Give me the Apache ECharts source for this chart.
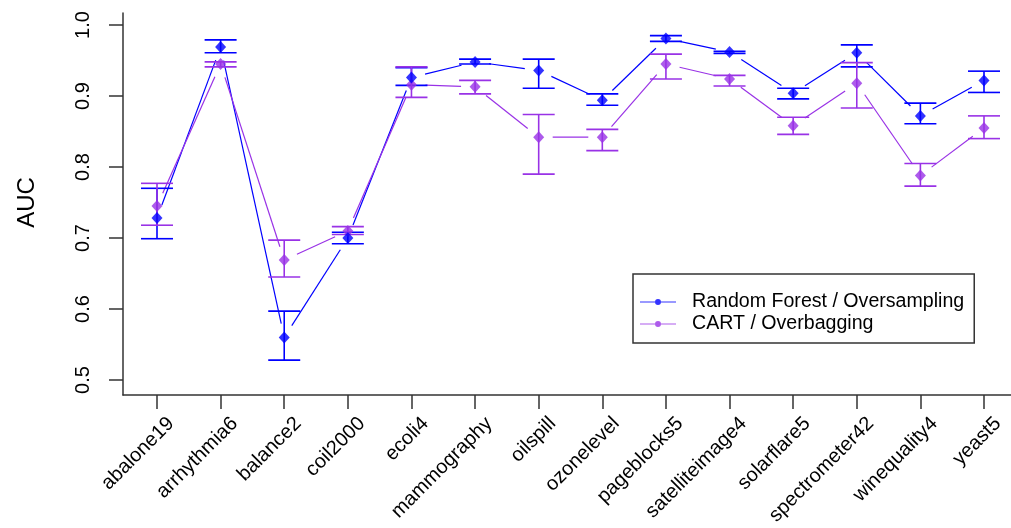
<!DOCTYPE html>
<html>
<head>
<meta charset="utf-8">
<script src="https://cdn.jsdelivr.net/npm/echarts@6/dist/echarts.min.js"></script>
<style>
html,body{margin:0;padding:0;background:#fff;}
#chart{width:1011px;height:528px;}
</style>
</head>
<body>
<div id="chart"></div>
<script>
const categories = ['abalone19','arrhythmia6','balance2','coil2000','ecoli4','mammography','oilspill','ozonelevel','pageblocks5','satelliteimage4','solarflare5','spectrometer42','winequality4','yeast5'];
const yTicks = [0.5, 0.6, 0.7, 0.8, 0.9, 1.0];

const rfMean = [0.728, 0.969, 0.560, 0.700, 0.926, 0.948, 0.936, 0.894, 0.981, 0.962, 0.904, 0.961, 0.872, 0.922];
const rfLow  = [0.699, 0.961, 0.528, 0.692, 0.915, 0.945, 0.911, 0.887, 0.977, 0.960, 0.896, 0.941, 0.861, 0.905];
const rfHigh = [0.770, 0.979, 0.597, 0.708, 0.940, 0.952, 0.952, 0.903, 0.985, 0.963, 0.911, 0.972, 0.890, 0.935];

const cartMean = [0.745, 0.945, 0.669, 0.710, 0.916, 0.913, 0.842, 0.842, 0.945, 0.924, 0.858, 0.918, 0.788, 0.855];
const cartLow  = [0.718, 0.941, 0.645, 0.705, 0.898, 0.903, 0.790, 0.823, 0.924, 0.914, 0.846, 0.883, 0.773, 0.840];
const cartHigh = [0.777, 0.948, 0.697, 0.716, 0.941, 0.922, 0.874, 0.853, 0.959, 0.929, 0.870, 0.947, 0.805, 0.872];

const seriesNames = ['Random Forest / Oversampling', 'CART / Overbagging'];
const BLUE = '#0000FF';
const PURPLE = '#9932E6';
const FONT = '"Liberation Sans", Arial, sans-serif';
const AXIS = '#333333';

function errRender(color) {
  return function (params, api) {
    const x = api.value(0);
    const pLo = api.coord([x, api.value(1)]);
    const pHi = api.coord([x, api.value(2)]);
    const hw = 16;
    const st = {stroke: color, lineWidth: 1.6};
    return {type: 'group', children: [
      {type: 'line', shape: {x1: pLo[0], y1: pLo[1], x2: pHi[0], y2: pHi[1]}, style: st},
      {type: 'line', shape: {x1: pLo[0] - hw, y1: pLo[1], x2: pLo[0] + hw, y2: pLo[1]}, style: st},
      {type: 'line', shape: {x1: pHi[0] - hw, y1: pHi[1], x2: pHi[0] + hw, y2: pHi[1]}, style: st}
    ]};
  };
}
function segRender(color) {
  return function (params, api) {
    const a = api.coord([api.value(0), api.value(1)]);
    const b = api.coord([api.value(2), api.value(3)]);
    const dx = b[0] - a[0], dy = b[1] - a[1];
    const len = Math.sqrt(dx * dx + dy * dy);
    const gap = 14;
    if (len <= 2 * gap) return null;
    const ux = dx / len, uy = dy / len;
    return {type: 'line', shape: {x1: a[0] + ux * gap, y1: a[1] + uy * gap, x2: b[0] - ux * gap, y2: b[1] - uy * gap},
      style: {stroke: color, lineWidth: 1.2}};
  };
}
function errData(lo, hi) { return lo.map((v, i) => [i, v, hi[i]]); }
function segData(m) { const d = []; for (let i = 0; i < m.length - 1; i++) d.push([i, m[i], i + 1, m[i + 1]]); return d; }

const legendIcon = 'path://M0,3.4 L15,3.4 L15,4.6 L0,4.6 Z M21,3.4 L36,3.4 L36,4.6 L21,4.6 Z M15,4 A3,3 0 1,0 21,4 A3,3 0 1,0 15,4 Z M47,4 L47,4.01 L46.99,4 Z';

const chart = echarts.init(document.getElementById('chart'), null, {renderer: 'canvas'});
chart.setOption({
  animation: false,
  backgroundColor: '#ffffff',
  textStyle: {fontFamily: FONT},
  grid: [
    {left: 123, right: 0, top: 13, bottom: 133},
    {left: 157, right: 27, top: 25, bottom: 148},
    {left: 171, right: 13, top: 25, bottom: 148}
  ],
  xAxis: [
    {gridIndex: 0, type: 'value', min: 0, max: 1, axisLine: {show: true, lineStyle: {color: AXIS, width: 1.5}},
      axisTick: {show: false}, axisLabel: {show: false}, splitLine: {show: false}},
    {gridIndex: 1, type: 'category', data: categories, boundaryGap: false, position: 'bottom', offset: 15,
      axisLine: {show: false}, axisTick: {show: true, length: 14, interval: 0, lineStyle: {color: AXIS, width: 1.5}},
      axisLabel: {show: false}, splitLine: {show: false}},
    {gridIndex: 2, type: 'category', data: categories, boundaryGap: false, position: 'bottom', offset: 15,
      axisLine: {show: false}, axisTick: {show: false},
      axisLabel: {show: true, interval: 0, rotate: 45, margin: 32, fontSize: 20, color: '#000', fontFamily: FONT},
      splitLine: {show: false}}
  ],
  yAxis: [
    {gridIndex: 0, type: 'value', min: 0, max: 1, axisLine: {show: true, lineStyle: {color: AXIS, width: 1.5}},
      axisTick: {show: false}, axisLabel: {show: false}, splitLine: {show: false}},
    {gridIndex: 1, type: 'value', min: yTicks[0], max: yTicks[yTicks.length - 1], interval: 0.1, offset: 34,
      axisLine: {show: false}, axisTick: {show: true, length: 14, lineStyle: {color: AXIS, width: 1.5}},
      axisLabel: {show: true, rotate: 90, margin: 30, fontSize: 20, color: '#000', fontFamily: FONT,
        formatter: v => v.toFixed(1)},
      splitLine: {show: false},
      name: 'AUC', nameLocation: 'middle', nameRotate: 90, nameGap: 84,
      nameTextStyle: {fontSize: 24, color: '#000', fontFamily: FONT}},
    {gridIndex: 2, type: 'value', min: 0.5, max: 1.0, show: false}
  ],
  legend: {
    orient: 'vertical', left: 633, top: 274,
    padding: [17, 10, 8, 7], itemGap: 0, itemWidth: 47, itemHeight: 8,
    borderColor: AXIS, borderWidth: 1.5, borderRadius: 0,
    textStyle: {fontSize: 19.6, color: '#000', lineHeight: 22, fontFamily: FONT},
    data: [{name: seriesNames[0], icon: legendIcon}, {name: seriesNames[1], icon: legendIcon}]
  },
  series: [
    {type: 'custom', name: 'rfLines', xAxisIndex: 1, yAxisIndex: 1, renderItem: segRender(BLUE),
      data: segData(rfMean), encode: {x: [0, 2], y: [1, 3]}, clip: false, silent: true, z: 2},
    {type: 'custom', name: 'cartLines', xAxisIndex: 1, yAxisIndex: 1, renderItem: segRender(PURPLE),
      data: segData(cartMean), encode: {x: [0, 2], y: [1, 3]}, clip: false, silent: true, z: 2},
    {type: 'custom', name: 'rfErr', xAxisIndex: 1, yAxisIndex: 1, renderItem: errRender(BLUE),
      data: errData(rfLow, rfHigh), encode: {x: 0, y: [1, 2]}, clip: false, silent: true, z: 3},
    {type: 'custom', name: 'cartErr', xAxisIndex: 1, yAxisIndex: 1, renderItem: errRender(PURPLE),
      data: errData(cartLow, cartHigh), encode: {x: 0, y: [1, 2]}, clip: false, silent: true, z: 3},
    {type: 'scatter', name: seriesNames[0], xAxisIndex: 1, yAxisIndex: 1, data: rfMean,
      symbol: 'diamond', symbolSize: [11, 12], itemStyle: {color: BLUE}, z: 5, clip: false},
    {type: 'scatter', name: seriesNames[1], xAxisIndex: 1, yAxisIndex: 1, data: cartMean,
      symbol: 'diamond', symbolSize: [11, 12], itemStyle: {color: PURPLE}, z: 4, clip: false}
  ]
});
</script>
</body>
</html>
